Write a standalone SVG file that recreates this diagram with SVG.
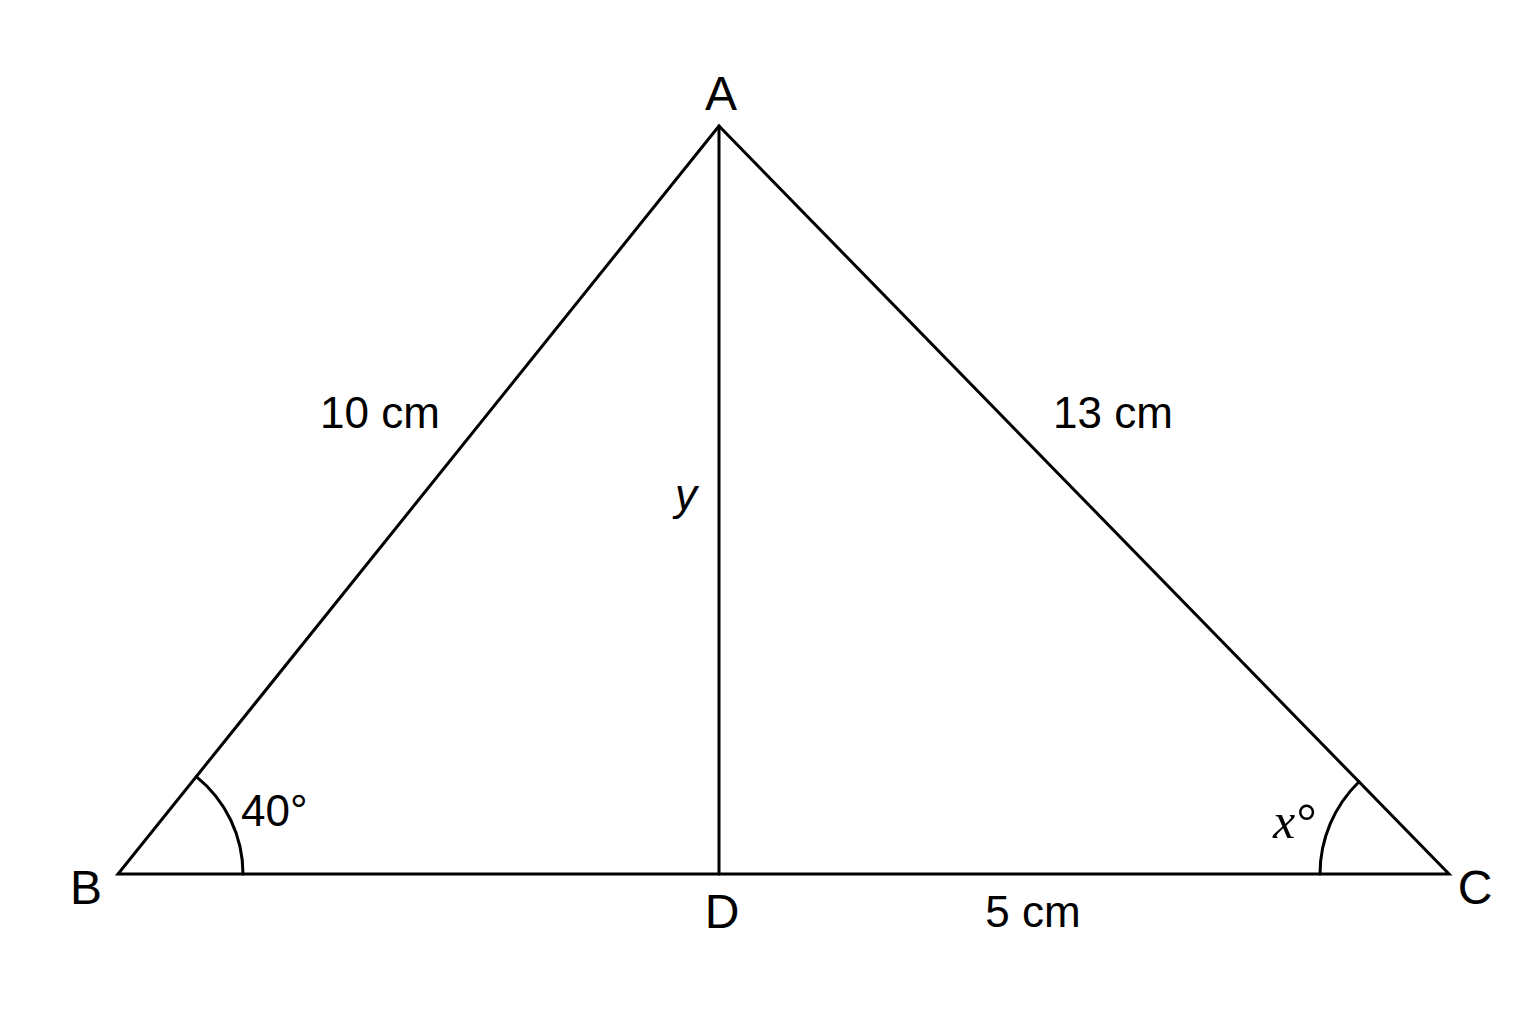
<svg xmlns="http://www.w3.org/2000/svg" width="1536" height="1024" viewBox="0 0 1536 1024">
<style>
.ln{stroke:#000;stroke-width:3;fill:none;stroke-linecap:round;stroke-linejoin:miter}
.t{font-family:"Liberation Sans",Arial,sans-serif;font-size:44px;fill:#000}
.v{font-family:"Liberation Sans",Arial,sans-serif;font-size:48px;fill:#000}
.ti{font-family:"Liberation Sans",Arial,sans-serif;font-size:44px;font-style:italic;fill:#000}
.ts{font-family:"Liberation Serif","Times New Roman",serif;font-size:50px;font-style:italic;fill:#000}
</style>
<rect width="1536" height="1024" fill="#fff"/>
<g id="connectors">
<polygon class="ln" points="719,126 118,874 1449,874"/>
<line class="ln" x1="719" y1="126" x2="719" y2="874"/>
<path class="ln" d="M196.3,776.6 A125,125 0 0 1 243,874"/>
<path class="ln" d="M1359,781.7 A129,129 0 0 0 1320,874"/>
</g>
<g id="A"><text class="v" x="721" y="110" text-anchor="middle">A</text></g>
<g id="B"><text class="v" x="86" y="904" text-anchor="middle">B</text></g>
<g id="C"><text class="v" x="1475" y="904" text-anchor="middle">C</text></g>
<g id="D"><text class="v" x="722" y="928" text-anchor="middle">D</text></g>
<g id="labels">
<text class="t" x="380" y="428" text-anchor="middle">10 cm</text>
<text class="t" x="1113" y="428" text-anchor="middle">13 cm</text>
<text class="t" x="1033" y="927" text-anchor="middle">5 cm</text>
<text class="t" x="241" y="826">40°</text>
<text class="ti" x="686" y="510" text-anchor="middle">y</text>
<text class="ts" x="1294" y="838" text-anchor="middle">x°</text>
</g>
</svg>
